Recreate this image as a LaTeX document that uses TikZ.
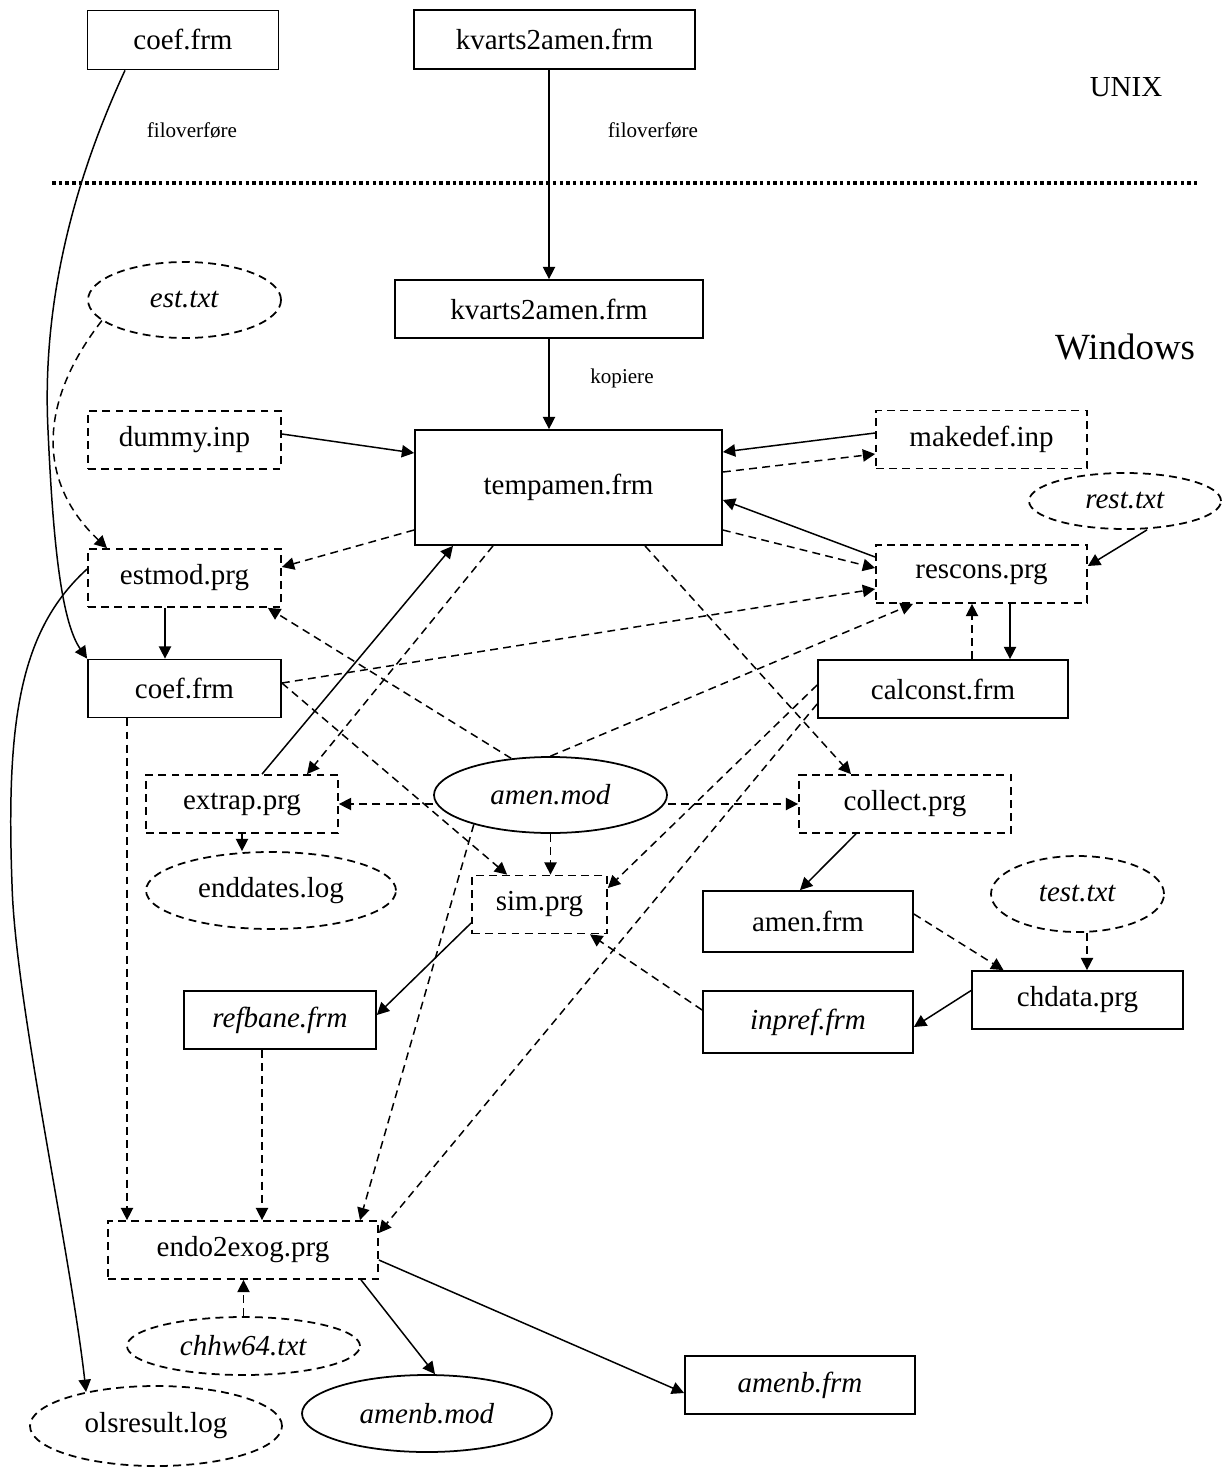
\documentclass[tikz,border=0pt]{standalone}
\usepackage{fontspec}
\setmainfont{Liberation Serif}
\usepackage{tikz}
\usetikzlibrary{arrows.meta,positioning,shapes.geometric,calc}
\newcommand\nodefont{\fontsize{16.5}{19}\selectfont}
\newcommand\smallfont{\fontsize{12}{14}\selectfont}
\tikzset{
  fbox/.style={rectangle, draw, line width=1pt, inner sep=0pt,
               minimum width=#1, minimum height=1.16cm, font=\nodefont},
  dbox/.style={fbox=#1, dashline},
  fell/.style={ellipse, draw, line width=1pt, inner sep=0pt,
               minimum width=#1, minimum height=1.52cm, font=\nodefont},
  dell/.style={fell=#1, dashline},
  dashline/.style={dash pattern=on 4.5pt off 3pt},
  arr/.style={-{Triangle[length=7pt,width=7pt]}, line width=0.85pt},
  darr/.style={arr, dashline},
  note/.style={font=\smallfont, inner sep=1pt},
  side/.style={font=\nodefont, inner sep=1pt},
  sepline/.style={line width=1.8pt, dash pattern=on 2pt off 1.8pt},
}
\begin{document}
\begin{tikzpicture}
        \useasboundingbox (0,0) rectangle (24.42,-29.36);

        \node[fbox=3.82cm, minimum height=1.18cm] (coefU) at (3.66,-0.80) {coef.frm};
        \node[fbox=5.62cm, minimum height=1.18cm] (kvartsU) at (11.09,-0.79) {kvarts2amen.frm};
        \node[side] (unix) at (22.52,-1.74) {UNIX};
        \node[note] (filoA) at (3.84,-2.62) {filoverføre};
        \node[note] (filoB) at (13.06,-2.62) {filoverføre};
        \coordinate (sepL) at (1.04,-3.66);
        \coordinate (sepR) at (24.0,-3.66);
        \draw[sepline] (sepL) -- (sepR);

        \node[dell=3.86cm] (est) at (3.69,-6.0) {\textit{est.txt}};
        \node[fbox=6.16cm] (kvartsW) at (10.98,-6.18) {kvarts2amen.frm};
        \node[side, font=\fontsize{21}{24}\selectfont] (windows) at (22.5,-6.94) {Windows};
        \node[note] (kopiere) at (12.44,-7.56) {kopiere};
        \node[dbox=3.86cm] (dummy) at (3.69,-8.80) {dummy.inp};
        \node[fbox=6.14cm, minimum height=2.30cm] (tempamen) at (11.37,-9.75) {tempamen.frm};
        \node[dbox=4.22cm] (makedef) at (19.63,-8.79) {makedef.inp};
        \node[dell=3.84cm, minimum height=1.12cm] (rest) at (22.5,-10.02) {\textit{rest.txt}};
        \node[dbox=3.86cm] (estmod) at (3.69,-11.56) {estmod.prg};
        \node[dbox=4.22cm] (rescons) at (19.63,-11.48) {rescons.prg};
        \node[fbox=3.86cm] (coefW) at (3.69,-13.77) {coef.frm};
        \node[fbox=5.0cm] (calconst) at (18.86,-13.78) {calconst.frm};
        \node[dbox=3.84cm] (extrap) at (4.84,-16.08) {extrap.prg};
        \node[fell=4.66cm] (amenmod) at (11.01,-15.90) {\textit{amen.mod}};
        \node[dbox=4.24cm] (collect) at (18.10,-16.08) {collect.prg};
        \node[dell=5.0cm, minimum height=1.54cm] (enddates) at (5.42,-17.81) {enddates.log};
        \node[dbox=2.70cm] (sim) at (10.79,-18.09) {sim.prg};
        \node[fbox=4.2cm, minimum height=1.22cm] (amenfrm) at (16.16,-18.43) {amen.frm};
        \node[dell=3.46cm] (test) at (21.55,-17.88) {\textit{test.txt}};
        \node[fbox=4.22cm] (chdata) at (21.55,-20.0) {chdata.prg};
        \node[fbox=3.84cm] (refbane) at (5.60,-20.40) {\textit{refbane.frm}};
        \node[fbox=4.2cm, minimum height=1.24cm] (inpref) at (16.16,-20.44) {\textit{inpref.frm}};
        \node[dbox=5.4cm] (endo) at (4.86,-25.0) {endo2exog.prg};
        \node[dell=4.66cm, minimum height=1.16cm] (chhw) at (4.87,-26.92) {\textit{chhw64.txt}};
        \node[dell=5.04cm, minimum height=1.6cm] (ols) at (3.12,-28.52) {olsresult.log};
        \node[fell=5.0cm, minimum height=1.54cm] (amenbmod) at (8.54,-28.27) {\textit{amenb.mod}};
        \node[fbox=4.6cm] (amenbfrm) at (16.0,-27.70) {\textit{amenb.frm}};

        \draw[arr] ([xshift=-1.16cm]coefU.south)
              .. controls (1.3,-4.0) and (0.85,-6.4) .. (0.96,-8.6)
              .. controls (1.05,-10.6) and (1.2,-12.4) .. (coefW.north west);
        \draw[arr] (kvartsU.south -| kvartsW.north) -- (kvartsW.north);
        \draw[arr] (kvartsW.south) -- (kvartsW.south |- tempamen.north);
        \draw[darr] (est.194) .. controls (0.8,-8.0) and (0.7,-9.6) .. ([xshift=-1.55cm]estmod.north);
        \draw[arr] ([yshift=0.12cm]dummy.east) -- ([yshift=0.69cm]tempamen.west);
        \draw[arr] ([yshift=0.13cm]makedef.west) -- ([yshift=0.71cm]tempamen.east);
        \draw[darr] ([yshift=0.31cm]tempamen.east) -- ([yshift=-0.29cm]makedef.west);
        \draw[arr] ([xshift=0.44cm]rest.south) -- ([yshift=0.16cm]rescons.east);
        \draw[arr] ([yshift=0.34cm]rescons.west) -- ([yshift=-0.25cm]tempamen.east);
        \draw[darr] ([yshift=-0.85cm]tempamen.east) -- ([yshift=0.12cm]rescons.west);
        \draw[darr] ([yshift=0.11cm]coefW.east) -- ([yshift=-0.30cm]rescons.west);
        \draw[darr] (amenmod.north) -- ([xshift=-1.37cm]rescons.south);
        \draw[darr] ([yshift=-0.85cm]tempamen.west) -- ([yshift=0.22cm]estmod.east);
        \draw[darr] (amenmod.137) -- ([xshift=-0.28cm]estmod.south east);
        \draw[arr] ([xshift=-0.39cm]estmod.south) -- ([xshift=-0.39cm]coefW.north);
        \draw[arr] ([yshift=0.18cm]estmod.west)
              .. controls (0.4,-12.6) and (0.12,-14.4) .. (0.24,-17.68)
              .. controls (0.3,-20.0) and (1.4,-25.0) .. (ols.154);
        \draw[darr] ([xshift=0.58cm]calconst.north) -- ([xshift=0.58cm]calconst.north |- rescons.south);
        \draw[arr] ([xshift=0.57cm]rescons.south) -- ([xshift=0.57cm]rescons.south |- calconst.north);
        \draw[arr] ([xshift=0.40cm]extrap.north) -- ([xshift=-2.31cm]tempamen.south);
        \draw[darr] ([xshift=-1.51cm]tempamen.south) -- ([xshift=1.30cm]extrap.north);
        \draw[darr] ([xshift=1.53cm]tempamen.south) -- ([xshift=-1.08cm]collect.north);
        \draw[darr] (amenmod.west |- extrap.east) -- (extrap.east);
        \draw[darr] (amenmod.east |- collect.west) -- (collect.west);
        \draw[darr] (amenmod.south) -- (amenmod.south |- sim.north);
        \draw[darr] ([yshift=0.11cm]coefW.east) -- ([xshift=0.72cm]sim.north west);
        \draw[darr] ([yshift=0.08cm]calconst.west) -- ([yshift=0.33cm]sim.east);
        \draw[darr] ([yshift=-0.30cm]calconst.west) -- ([yshift=0.34cm]endo.east);
        \draw[darr] (amenmod.201) -- ([xshift=2.34cm]endo.north);
        \draw[darr] ([xshift=-1.15cm]coefW.south) -- ([xshift=-1.15cm]coefW.south |- endo.north);
        \draw[darr] ([xshift=-0.36cm]refbane.south) -- ([xshift=-0.36cm]refbane.south |- endo.north);
        \draw[darr] (extrap.south) -- (extrap.south |- enddates.north);
        \draw[arr] ([yshift=-0.37cm]sim.west) -- ([yshift=0.10cm]refbane.east);
        \draw[darr] ([yshift=0.24cm]inpref.west) -- ([xshift=1.01cm]sim.south);
        \draw[arr] ([xshift=-0.98cm]collect.south) -- ([xshift=-0.16cm]amenfrm.north);
        \draw[darr] ([yshift=0.15cm]amenfrm.east) -- ([xshift=-1.48cm]chdata.north);
        \draw[darr] ([xshift=0.19cm]test.south) -- ([xshift=0.19cm]test.south |- chdata.north);
        \draw[arr] ([yshift=0.19cm]chdata.west) -- ([yshift=-0.10cm]inpref.east);
        \draw[darr] (chhw.north) -- (chhw.north |- endo.south);
        \draw[arr] ([xshift=2.36cm]endo.south) -- ([xshift=0.16cm]amenbmod.north);
        \draw[arr] ([yshift=-0.20cm]endo.east) -- ([yshift=-0.16cm]amenbfrm.west);
      \end{tikzpicture}
\end{document}
